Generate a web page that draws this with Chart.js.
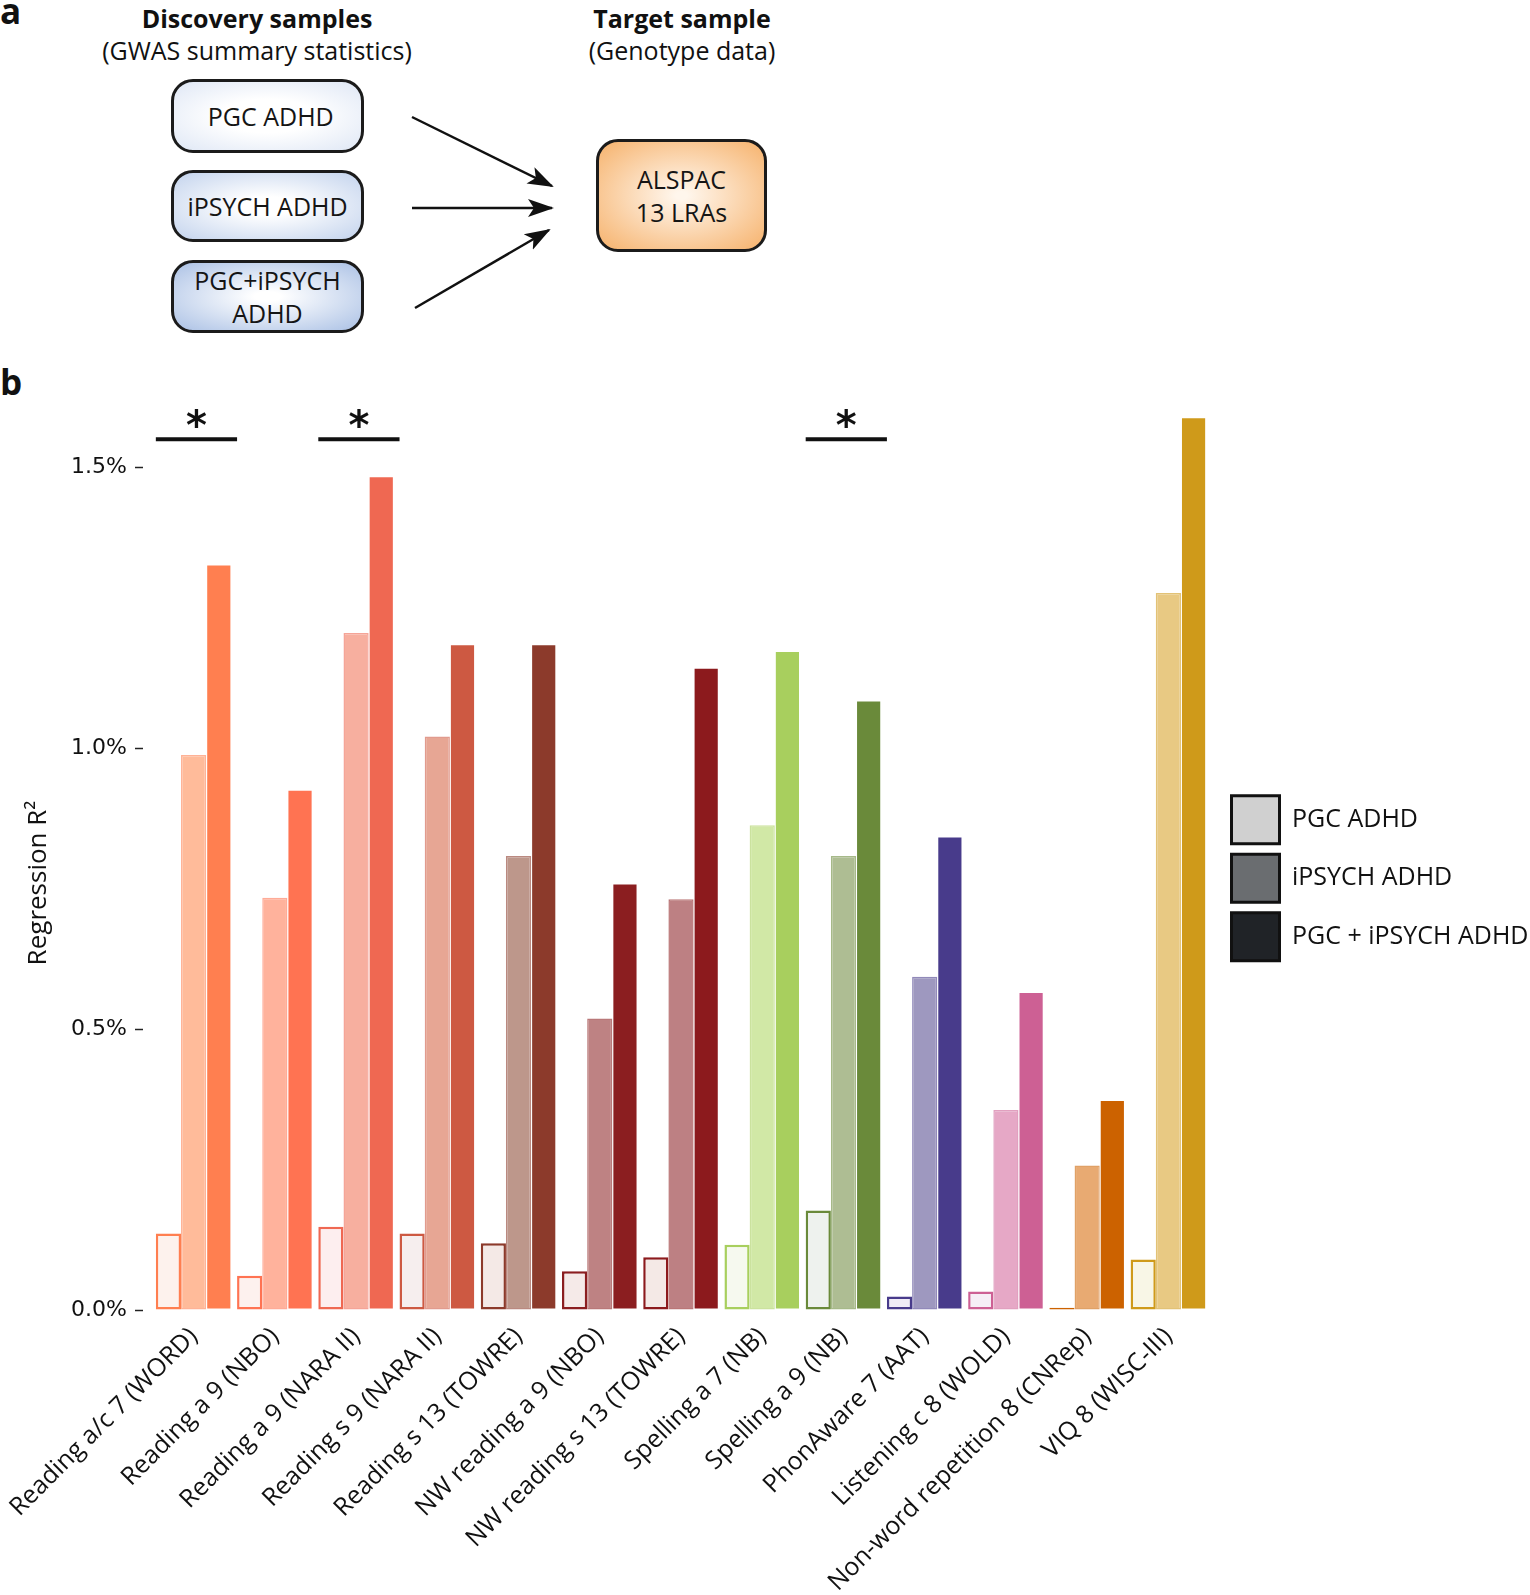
<!DOCTYPE html>
<html>
<head>
<meta charset="utf-8">
<script src="https://cdn.jsdelivr.net/npm/chart.js@4.4.1/dist/chart.umd.min.js"></script>
<style>
  body { margin: 0; background: #fff; font-family: 'Open Sans', sans-serif; color: #111; }
  #page { position: relative; width: 1530px; height: 1595px; overflow: hidden; }
  .letter { position: absolute; left: 0; font-weight: 700; font-size: 35px; line-height: 1; }
  .head { position: absolute; top: 2px; transform: translateX(-50%); text-align: center; white-space: nowrap; font-size: 25px; line-height: 32px; }
  .head b { display: block; }
  .box { position: absolute; box-sizing: border-box; border: 3px solid #1b1b1b; border-radius: 22px;
         display: flex; align-items: center; justify-content: center; text-align: center;
         font-size: 25px; line-height: 33px; color: #151515; }
  #arrows { position: absolute; left: 0; top: 0; }
  #chart-wrap { position: absolute; left: 0; top: 360px; width: 1530px; height: 1235px; }
</style>
</head>
<body>
<div id="page">
  <div class="letter" style="top:-7px">a</div>
  <div class="head" style="left:257px"><b>Discovery samples</b>(GWAS summary statistics)</div>
  <div class="head" style="left:682px"><b>Target sample</b>(Genotype data)</div>

  <div class="box" style="left:171px;top:79px;width:193px;height:74px;background:radial-gradient(ellipse at center,#fff 35%,#dfe7f5 100%)">&nbsp;PGC ADHD</div>
  <div class="box" style="left:171px;top:170px;width:193px;height:72px;background:radial-gradient(ellipse at center,#fff 20%,#c3d3ed 100%)">iPSYCH ADHD</div>
  <div class="box" style="left:171px;top:260px;width:193px;height:73px;background:radial-gradient(ellipse at center,#fff 10%,#abc1e5 100%)">PGC+iPSYCH<br>ADHD</div>
  <div class="box" style="left:596px;top:139px;width:171px;height:113px;background:radial-gradient(ellipse at center,#fff6ec 5%,#f6b26c 100%)">ALSPAC<br>13 LRAs</div>

  <svg id="arrows" width="800" height="360">
    <defs>
      <marker id="head" markerUnits="userSpaceOnUse" markerWidth="26" markerHeight="20" refX="24" refY="10" orient="auto">
        <path d="M0,1 L26,10 L0,19 L6,10 z" fill="#111"/>
      </marker>
    </defs>
    <g stroke="#111" stroke-width="2.5" marker-end="url(#head)">
      <line x1="412" y1="117" x2="552" y2="186"/>
      <line x1="412" y1="208" x2="552" y2="208"/>
      <line x1="415" y1="308" x2="549" y2="230"/>
    </g>
  </svg>

  <div class="letter" style="top:364px">b</div>

  <div id="chart-wrap"><canvas id="r2-chart" width="1530" height="1235"></canvas></div>
</div>

<script>
const categories = [
  'Reading a/c 7 (WORD)', 'Reading a 9 (NBO)', 'Reading a 9 (NARA II)', 'Reading s 9 (NARA II)',
  'Reading s 13 (TOWRE)', 'NW reading a 9 (NBO)', 'NW reading s 13 (TOWRE)', 'Spelling a 7 (NB)',
  'Spelling a 9 (NB)', 'PhonAware 7 (AAT)', 'Listening c 8 (WOLD)', 'Non-word repetition 8 (CNRep)',
  'VIQ 8 (WISC-III)'
];

// regression R2 in percent
const pgcValues      = [0.136, 0.061, 0.148, 0.136, 0.119, 0.069, 0.094, 0.116, 0.177, 0.024, 0.033, 0.004, 0.090];
const ipsychValues   = [0.988, 0.734, 1.205, 1.021, 0.808, 0.519, 0.731, 0.863, 0.808, 0.593, 0.356, 0.257, 1.276];
const combinedValues = [1.327, 0.926, 1.484, 1.185, 1.185, 0.759, 1.143, 1.173, 1.085, 0.843, 0.566, 0.374, 1.589];

const seriesNames = ['PGC ADHD', 'iPSYCH ADHD', 'PGC + iPSYCH ADHD'];
const legendGreys = ['#d0d0d0', '#6a6d70', '#202327'];
const yTicks = [0, 0.5, 1.0, 1.5];
const significant = ['Reading a/c 7 (WORD)', 'Reading a 9 (NARA II)', 'Spelling a 9 (NB)'];

const baseColors = ['#ff7f50', '#ff7352', '#ef6852', '#cd5942', '#8c3a2b', '#8b1e20', '#8c1a1d',
                    '#a8cf5e', '#6a8a3a', '#483b8b', '#cd6094', '#cc6200', '#cf9a1a'];
const midColors  = ['#ffbb9a', '#ffb29c', '#f7af9f', '#e7a694', '#bd978b', '#be8283', '#bd8083',
                    '#d1e8a6', '#aebd93', '#9e98bf', '#e6a8c6', '#e8aa72', '#e8c983'];
const paleColors = ['#fdf2ed', '#fdf1ee', '#fdeeef', '#f6eeee', '#f4e9e6', '#f5eae8', '#f4e9e6',
                    '#f6f9ef', '#eef2ee', '#efebf5', '#f6eef6', '#fdf1e6', '#f8f6e6'];

const annotations = {
  id: 'annotations',
  afterDatasetsDraw(chart) {
    const { ctx, scales: { x, y } } = chart;
    const catW = x.width / categories.length;
    ctx.save();
    ctx.fillStyle = '#111';
    ctx.strokeStyle = '#111';
    significant.forEach(name => {
      const cx = x.getPixelForValue(categories.indexOf(name));
      const left = cx - catW * 0.465;
      const yLine = y.getPixelForValue(1.55);
      ctx.lineWidth = 4;
      ctx.beginPath();
      ctx.moveTo(left, yLine);
      ctx.lineTo(left + catW, yLine);
      ctx.stroke();
      ctx.font = 'bold 40px "DejaVu Sans"';
      ctx.textAlign = 'center';
      ctx.textBaseline = 'alphabetic';
      ctx.fillText('*', left + catW / 2, yLine);
    });
    // y axis title
    ctx.translate(39, 523);
    ctx.rotate(-Math.PI / 2);
    ctx.font = '26px "Open Sans"';
    ctx.textAlign = 'center';
    ctx.textBaseline = 'middle';
    ctx.fillText('Regression R\u00b2', 0, 0);
    ctx.restore();
  }
};

new Chart(document.getElementById('r2-chart'), {
  type: 'bar',
  data: {
    labels: categories,
    datasets: [
      { label: seriesNames[0], data: pgcValues, backgroundColor: paleColors,
        borderColor: baseColors, borderWidth: 2.5, borderSkipped: false },
      { label: seriesNames[1], data: ipsychValues, backgroundColor: midColors,
        borderColor: baseColors.map(c => c + '99'), borderWidth: 1.5, borderSkipped: false },
      { label: seriesNames[2], data: combinedValues, backgroundColor: baseColors,
        borderColor: 'rgba(255,255,255,0.45)', borderWidth: 1, borderSkipped: false }
    ]
  },
  options: {
    responsive: false,
    animation: false,
    layout: { padding: { top: 23, right: 1, left: 0, bottom: 0 } },
    datasets: { bar: { barPercentage: 1, categoryPercentage: 0.93 } },
    scales: {
      x: {
        grid: { display: false },
        border: { display: false },
        ticks: {
          autoSkip: false, minRotation: 45, maxRotation: 45, padding: 4,
          color: '#111', font: { family: 'Open Sans', size: 25 }
        },
        afterFit: s => { s.height = 285; }
      },
      y: {
        min: 0, max: 1.65,
        grid: { drawOnChartArea: false, tickLength: 18, tickColor: '#222', tickWidth: 1.5,
                tickBorderDash: [8, 10] },
        border: { display: false },
        ticks: {
          padding: 8, color: '#111', font: { family: 'DejaVu Sans', size: 22 },
          callback: v => v.toFixed(1) + '%'
        },
        afterBuildTicks: s => { s.ticks = yTicks.map(v => ({ value: v })); },
        afterFit: s => { s.width = 153; }
      },
      spacer: {
        type: 'linear', position: 'right', display: true,
        grid: { display: false }, border: { display: false }, ticks: { display: false },
        afterFit: s => { s.width = 12; }
      }
    },
    plugins: {
      tooltip: { enabled: false },
      legend: {
        position: 'right',
        align: 'start',
        maxWidth: 308,
        title: { display: true, text: '', padding: { top: 401, bottom: 0 }, font: { size: 1 } },
        labels: {
          boxWidth: 48, boxHeight: 48, padding: 10.5, color: '#111',
          font: { family: 'Open Sans', size: 25 },
          generateLabels: () => seriesNames.map((name, i) => ({
            text: name, fillStyle: legendGreys[i], strokeStyle: '#111', fontColor: '#111',
            lineWidth: 3, hidden: false, datasetIndex: i
          }))
        }
      }
    }
  },
  plugins: [annotations]
});
</script>
</body>
</html>
